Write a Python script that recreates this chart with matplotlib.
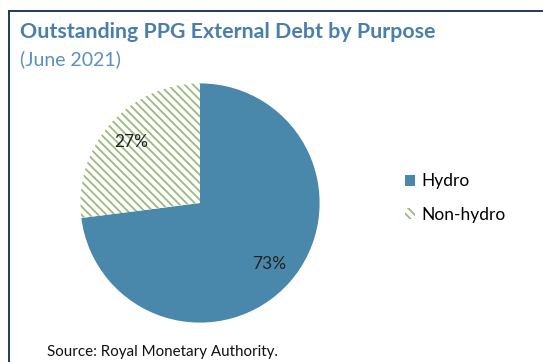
import matplotlib
matplotlib.use("Agg")
import matplotlib.pyplot as plt
from matplotlib.lines import Line2D

labels = ["Hydro", "Non-hydro"]
shares = [73, 27]

plt.rcParams['font.family'] = ['Lato', 'DejaVu Sans']
plt.rcParams['hatch.linewidth'] = 1.3

fig = plt.figure(figsize=(5.43, 3.62), dpi=100)
W, H = 543, 362

# pie axes: centre (200, 203) px, radius 122 px
cx, cy, r = 200, 203, 122
ax = fig.add_axes([(cx - r) / W, (H - cy - r) / H, 2 * r / W, 2 * r / H])
wedges, texts, autotexts = ax.pie(
    shares, startangle=90, counterclock=False, radius=1,
    autopct='%d%%', pctdistance=0.77,
    colors=['#4a88ab', 'white'],
    wedgeprops=dict(linewidth=0),
    textprops=dict(fontsize=12.5, color='#222222'))
wedges[1].set_edgecolor('#9bbb7b')
wedges[1].set_hatch('\\\\\\\\')
ax.set_xlim(-1.02, 1.02)
ax.set_ylim(-1.02, 1.02)
ax.set_aspect('equal')

fig.text(20 / W, 1 - 38 / H, "Outstanding PPG External Debt by Purpose",
         fontsize=15.4, fontweight='bold', color='#4a7fad', va='baseline')
fig.text(20 / W, 1 - 65 / H, "(June 2021)", fontsize=14, color='#5b8fbd',
         va='baseline')
fig.text(47 / W, 1 - 352 / H, "Source: Royal Monetary Authority.",
         fontsize=10.9, color='#111111', va='center')

fig.legend(wedges, labels, loc='center left', bbox_to_anchor=(405 / W, 1 - 198 / H),
           frameon=False, fontsize=12.5, handlelength=0.6, handleheight=0.6,
           handletextpad=0.35, labelspacing=1.0, borderpad=0, borderaxespad=0)

# frame lines on the left and top
fig.add_artist(Line2D([9 / W, 9 / W], [0, 1 - 11 / H], color='#1f3a5a', lw=1.4))
fig.add_artist(Line2D([9 / W, 1], [1 - 11 / H, 1 - 11 / H], color='#1f3a5a', lw=1.4))

fig.savefig('out.png', dpi=100)
